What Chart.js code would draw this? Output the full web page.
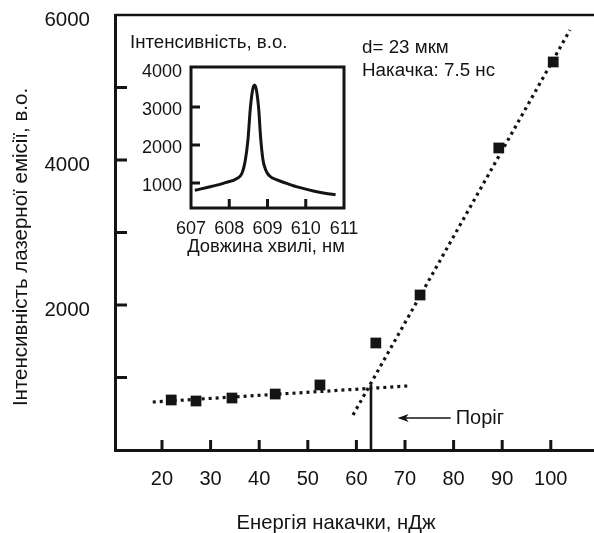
<!DOCTYPE html>
<html><head><meta charset="utf-8">
<script src="https://cdn.jsdelivr.net/npm/chart.js@4.4.1/dist/chart.umd.min.js"></script>
<style>
html,body{margin:0;padding:0;background:#fff;}
#wrap{position:relative;width:594px;height:533px;overflow:hidden;}
#main{position:absolute;left:0;top:0;}
#inset{position:absolute;left:110px;top:28px;}
</style></head><body>
<div id="wrap"><canvas id="main" width="594" height="533"></canvas><canvas id="inset" width="250" height="232"></canvas></div>
<script>
const FONT = "'Liberation Sans', Arial, Helvetica, sans-serif";
const INK = '#141414';

// ---- main chart data ----
const pumpEnergy = [21.9, 27.0, 34.4, 43.3, 52.5, 64.0, 73.1, 89.3, 100.5];
const laserIntensity = [690, 676, 717, 772, 897, 1476, 2138, 4166, 5352];
const belowFitEnergy = [18.1, 70.6];
const belowFitIntensity = [662, 883];
const aboveFitEnergy = [59.3, 103.95];
const aboveFitIntensity = [483, 5793];
const thresholdEnergy = [63.0, 63.0];
const thresholdIntensity = [0, 905];
const arrowEnergy = [68.9, 79.4];
const arrowIntensity = [441, 441];
const xTickValues = [20, 30, 40, 50, 60, 70, 80, 90, 100];
const yTickValues = [1000, 2000, 3000, 4000, 5000, 6000];
const yLabelValues = [2000, 4000, 6000];

// ---- inset data ----
const wavelength = [607.1, 607.5, 607.9, 608.2, 608.33, 608.42, 608.49, 608.55, 608.61, 608.66, 608.71, 608.77, 608.82, 608.88, 608.95, 609.05, 609.25, 609.5, 609.8, 610.2, 610.5, 610.78];
const spectrum = [810, 900, 1010, 1120, 1250, 1600, 2150, 2950, 3450, 3580, 3450, 2950, 2200, 1620, 1350, 1190, 1080, 990, 890, 790, 730, 690];
const insetXTickValues = [607, 608, 609, 610, 611];
const insetYTickValues = [1000, 2000, 3000, 4000];

const pts = (xs, ys) => xs.map((x, i) => ({x: x, y: ys[i]}));
const noPad = s => { s.paddingTop = 0; s.paddingBottom = 0; s.paddingLeft = 0; s.paddingRight = 0; };

Chart.defaults.font.family = FONT;
Chart.defaults.color = INK;

const mainDecor = {
  id: 'mainDecor',
  afterDraw(chart) {
    const {ctx, chartArea: a, scales: {x, y}} = chart;
    ctx.save();
    ctx.strokeStyle = INK;
    ctx.fillStyle = INK;
    ctx.lineWidth = 2.5;
    ctx.beginPath(); ctx.moveTo(a.left, a.top); ctx.lineTo(a.right, a.top); ctx.stroke();
    ctx.lineWidth = 3;
    xTickValues.forEach(v => {
      const p = x.getPixelForValue(v);
      ctx.beginPath(); ctx.moveTo(p, a.bottom); ctx.lineTo(p, a.bottom - 10); ctx.stroke();
    });
    yTickValues.forEach(v => {
      if (v >= y.max) return;
      const p = y.getPixelForValue(v);
      ctx.beginPath(); ctx.moveTo(a.left, p); ctx.lineTo(a.left + 12, p); ctx.stroke();
    });
    const tx = x.getPixelForValue(arrowEnergy[0]), ty = y.getPixelForValue(arrowIntensity[0]);
    ctx.beginPath();
    ctx.moveTo(tx - 2, ty); ctx.lineTo(tx + 9, ty - 4); ctx.lineTo(tx + 6, ty); ctx.lineTo(tx + 9, ty + 4); ctx.closePath();
    ctx.fill();
    ctx.textBaseline = 'middle';
    ctx.textAlign = 'left';
    ctx.font = '20px ' + FONT;
    ctx.fillText('Поріг', x.getPixelForValue(arrowEnergy[1]) + 5, ty);
    ctx.font = '18.8px ' + FONT;
    ctx.fillText('d= 23 мкм', 362, 48);
    ctx.fillText('Накачка: 7.5 нс', 362, 71);
    ctx.textAlign = 'center';
    ctx.font = '20.3px ' + FONT;
    ctx.fillText('Енергія накачки, нДж', 336, 523);
    ctx.save();
    ctx.translate(21, 247);
    ctx.rotate(-Math.PI / 2);
    ctx.font = '20.5px ' + FONT;
    ctx.fillText('Інтенсивність лазерної емісії, в.о.', 0, 0);
    ctx.restore();
    ctx.restore();
  }
};

new Chart(document.getElementById('main'), {
  type: 'scatter',
  data: {
    datasets: [
      {data: pts(pumpEnergy, laserIntensity), pointStyle: 'rect', pointRadius: 7.6, pointHoverRadius: 7.6,
       backgroundColor: INK, borderWidth: 0, showLine: false},
      {data: pts(belowFitEnergy, belowFitIntensity), showLine: true, borderColor: INK, borderWidth: 3.2,
       borderDash: [3, 4], pointRadius: 0},
      {data: pts(aboveFitEnergy, aboveFitIntensity), showLine: true, borderColor: INK, borderWidth: 3.2,
       borderDash: [3, 4], pointRadius: 0},
      {data: pts(thresholdEnergy, thresholdIntensity), showLine: true, borderColor: INK, borderWidth: 2.6, pointRadius: 0},
      {data: pts(arrowEnergy, arrowIntensity), showLine: true, borderColor: INK, borderWidth: 1.6, pointRadius: 0}
    ]
  },
  options: {
    responsive: false, animation: false, events: [],
    layout: {autoPadding: false, padding: {top: 15, right: 0, left: 0, bottom: 0}},
    plugins: {legend: {display: false}, tooltip: {enabled: false}},
    scales: {
      x: {
        type: 'linear', min: 10.33, max: 108.89,
        afterBuildTicks: s => { s.ticks = xTickValues.map(v => ({value: v})); },
        afterFit: s => { s.height = 83; noPad(s); },
        grid: {display: false, drawTicks: false},
        border: {display: true, width: 3, color: INK},
        ticks: {padding: 17, font: {size: 20}, color: INK, maxRotation: 0, autoSkip: false,
                callback: v => String(v)}
      },
      y: {
        type: 'linear', min: 0, max: 6000,
        afterBuildTicks: s => { s.ticks = yTickValues.map(v => ({value: v})); },
        afterFit: s => { s.width = 115; noPad(s); },
        grid: {display: false, drawTicks: false},
        border: {display: true, width: 3, color: INK},
        ticks: {padding: 25, labelOffset: 5, font: {size: 20.5}, color: INK, autoSkip: false,
                callback: v => yLabelValues.includes(v) ? String(v) : ''}
      }
    }
  },
  plugins: [mainDecor]
});

const insetDecor = {
  id: 'insetDecor',
  afterDraw(chart) {
    const {ctx, chartArea: a, scales: {x, y}} = chart;
    ctx.save();
    ctx.strokeStyle = INK;
    ctx.fillStyle = INK;
    ctx.lineWidth = 3;
    ctx.strokeRect(a.left, a.top, a.right - a.left, a.bottom - a.top);
    insetXTickValues.forEach(v => {
      if (v <= x.min || v >= x.max) return;
      const p = x.getPixelForValue(v);
      ctx.beginPath(); ctx.moveTo(p, a.bottom); ctx.lineTo(p, a.bottom - 9); ctx.stroke();
    });
    insetYTickValues.forEach(v => {
      if (v >= y.max - 100) return;
      const p = y.getPixelForValue(v);
      ctx.beginPath(); ctx.moveTo(a.left, p); ctx.lineTo(a.left + 9, p); ctx.stroke();
    });
    ctx.textBaseline = 'middle';
    ctx.font = '18.7px ' + FONT;
    ctx.textAlign = 'left';
    ctx.fillText('Інтенсивність, в.о.', 20, 15);
    ctx.textAlign = 'center';
    ctx.font = '18.4px ' + FONT;
    ctx.fillText('Довжина хвилі, нм', 156, 219);
    ctx.restore();
  }
};

new Chart(document.getElementById('inset'), {
  type: 'scatter',
  data: {
    datasets: [
      {data: pts(wavelength, spectrum), showLine: true, borderColor: INK, borderWidth: 3,
       cubicInterpolationMode: 'monotone', pointRadius: 0}
    ]
  },
  options: {
    responsive: false, animation: false, events: [],
    layout: {autoPadding: false, padding: {top: 39, right: 16, left: 0, bottom: 0}},
    plugins: {legend: {display: false}, tooltip: {enabled: false}},
    scales: {
      x: {
        type: 'linear', min: 607, max: 611,
        afterBuildTicks: s => { s.ticks = insetXTickValues.map(v => ({value: v})); },
        afterFit: s => { s.height = 52; noPad(s); },
        grid: {display: false, drawTicks: false},
        border: {display: false},
        ticks: {padding: 10, font: {size: 18}, color: INK, maxRotation: 0, autoSkip: false,
                callback: v => String(v)}
      },
      y: {
        type: 'linear', min: 342, max: 4053,
        afterBuildTicks: s => { s.ticks = insetYTickValues.map(v => ({value: v})); },
        afterFit: s => { s.width = 81; noPad(s); },
        grid: {display: false, drawTicks: false},
        border: {display: false},
        ticks: {padding: 9, labelOffset: 3, font: {size: 18}, color: INK, autoSkip: false,
                callback: v => String(v)}
      }
    }
  },
  plugins: [insetDecor]
});
</script>
</body></html>
